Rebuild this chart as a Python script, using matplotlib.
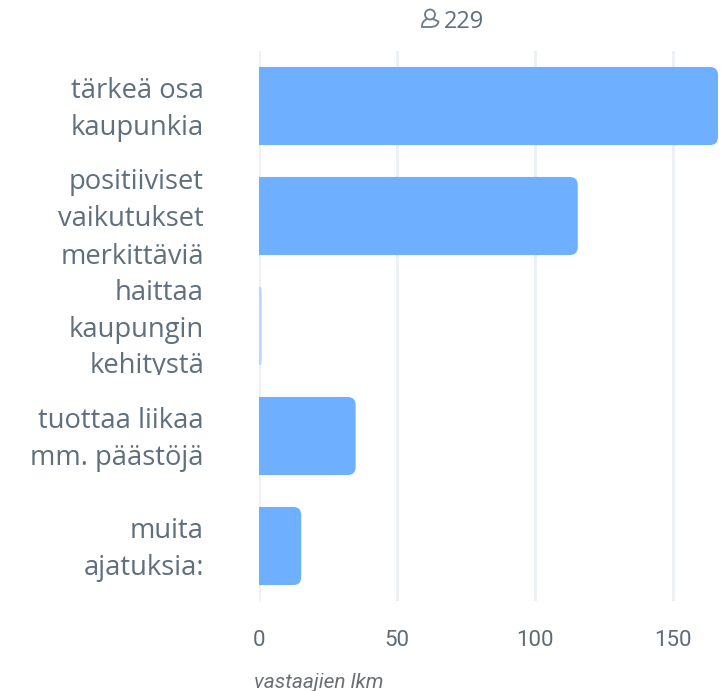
import matplotlib
matplotlib.use("Agg")
import matplotlib.pyplot as plt
from matplotlib.patches import PathPatch
from matplotlib.path import Path
from matplotlib.transforms import Bbox

categories = [
    "tärkeä osa\nkaupunkia",
    "positiiviset\nvaikutukset\nmerkittäviä",
    "haittaa\nkaupungin\nkehitystä",
    "tuottaa liikaa\nmm. päästöjä",
    "muita\najatuksia:",
]
values = [166.3, 115.5, 1, 35, 15.3]
bar_colors = ["#6eb0ff", "#6eb0ff", "#b8d6ff", "#6eb0ff", "#6eb0ff"]
x_ticks = [0, 50, 100, 150]
respondents = "229"
x_label = "vastaajien lkm"

W, H = 721, 691
TEXT = "#5f6f7e"


def rounded_bar(ax, y, value, color, height=0.71, radius_px=8):
    """Bar with rounded right corners, radius given in pixels."""
    rx = min(radius_px / 2.76, value / 2)
    ry = radius_px / 110
    top, bot = y - height / 2, y + height / 2
    verts = [
        (0, bot), (value - rx, bot), (value, bot), (value, bot - ry),
        (value, top + ry), (value, top), (value - rx, top), (0, top), (0, bot),
    ]
    codes = [
        Path.MOVETO, Path.LINETO, Path.CURVE3, Path.CURVE3,
        Path.LINETO, Path.CURVE3, Path.CURVE3, Path.LINETO, Path.CLOSEPOLY,
    ]
    ax.add_patch(PathPatch(Path(verts, codes), facecolor=color, edgecolor="none", zorder=3))


fig = plt.figure(figsize=(W / 100, H / 100), dpi=100)
ax = fig.add_axes([259 / W, 1 - 601 / H, (W - 259) / W, 550 / H])
ax.set_xlim(0, (W - 259) / 2.76)
ax.set_ylim(4.5, -0.5)

for i, (v, c) in enumerate(zip(values, bar_colors)):
    rounded_bar(ax, i, v, c)

for spine in ax.spines.values():
    spine.set_visible(False)
ax.set_xticks(x_ticks)
ax.set_yticks([])
ax.grid(axis="x", color="#ebf0f3", linewidth=2, zorder=0)
ax.tick_params(axis="x", length=0, pad=21, labelsize=16, labelcolor="#5f6b76")
for lab in ax.get_xticklabels():
    lab.set_fontfamily("Roboto")

# category labels, right aligned, one text per line for the fixed line height
for i, cat in enumerate(categories):
    lines = cat.split("\n")
    for j, line in enumerate(lines):
        offset = (j - (len(lines) - 1) / 2) * 37
        t = ax.annotate(line, xy=(0, i), xytext=(-55, -offset), xycoords="data",
                        textcoords="offset pixels", ha="right", va="center_baseline",
                        fontsize=19.7, family="Open Sans", color=TEXT, annotation_clip=False)
        # the y tail is cut off in the reference
        if line == "kehitystä":
            t.set_clip_on(True)
            t.set_clip_box(Bbox([[0, H - 375], [W, H - 340]]))

fig.text(463.5 / W, 1 - 22 / H, respondents, ha="center", va="center",
         fontsize=17, family="Open Sans", color=TEXT)

# small person icon next to the count
icon = fig.add_axes([419 / W, 1 - 30 / H, 22 / W, 24 / H])
icon.axis("off")
icon.set_xlim(0, 22)
icon.set_ylim(24, 0)
icon.add_patch(plt.Circle((11, 8.5), 5, fill=False, ec="#6b7a88", lw=1.3))
body = PathPatch(Path(
    [(8, 13), (2.5, 15.5), (3, 21), (11, 21), (19, 21), (19.5, 15.5), (14, 13)],
    [Path.MOVETO, Path.CURVE3, Path.CURVE3, Path.LINETO, Path.CURVE3, Path.CURVE3, Path.LINETO]),
    fill=False, ec="#6b7a88", lw=1.3)
icon.add_patch(body)

fig.text(319 / W, 1 - 682 / H, x_label, ha="center", va="center", fontsize=15,
         style="italic", family="Roboto", color="#6b6f73")

fig.savefig("out.png", dpi=100)
